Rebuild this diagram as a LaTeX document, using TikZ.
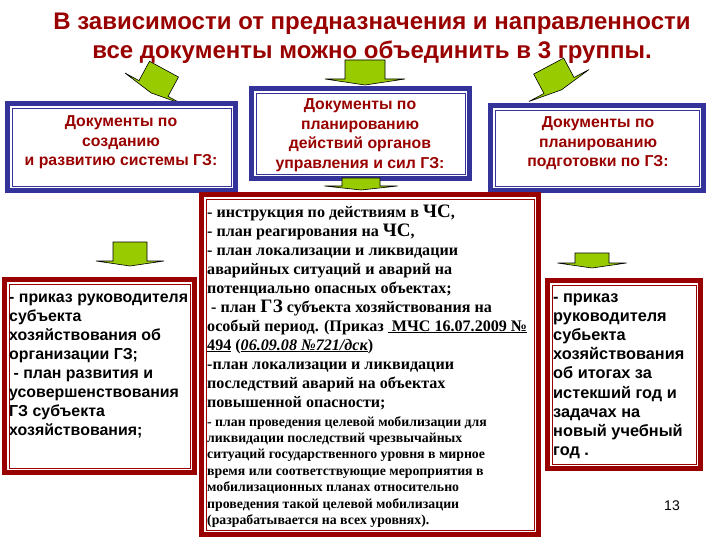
\documentclass[tikz,border=0pt]{standalone}
\usepackage{fontspec}
\setmainfont{Liberation Serif}
\setsansfont{Liberation Sans}
\newfontfamily\arialf{Liberation Sans}
\newfontfamily\timesf{Liberation Serif}
\definecolor{ttlred}{RGB}{153,0,0}
\definecolor{bxblue}{RGB}{51,51,153}
\definecolor{bxred}{RGB}{153,0,0}
\definecolor{argreen}{RGB}{153,204,0}
\tikzset{
  boxbase/.style={rectangle, line width=5pt, fill=white, inner sep=0pt, outer sep=0pt},
  bluebox/.style={boxbase, draw=bxblue},
  redbox/.style={boxbase, draw=bxred},
  arrowst/.style={fill=argreen, draw=black, line width=0.6pt, line join=miter},
  ttl/.style={font=\arialf\bfseries\fontsize{24}{29}\selectfont, text=ttlred, align=center, inner sep=0pt},
  toptxt/.style={font=\arialf\bfseries\fontsize{15.8}{19.5}\selectfont, text=ttlred, align=center, inner sep=0pt},
  sidetxt/.style={font=\arialf\bfseries\fontsize{15.9}{19.1}\selectfont, text=black, align=left, inner sep=0pt, anchor=base west},
  midtxt/.style={font=\timesf\bfseries\fontsize{16.1}{19}\selectfont, text=black, align=left, inner sep=0pt, anchor=base west},
  smalltxt/.style={font=\timesf\bfseries\fontsize{13.8}{16.4}\selectfont, text=black, align=left, inner sep=0pt, anchor=base west},
}
\newcommand\bigabbr[1]{{\fontsize{19}{19}\selectfont #1}}
% name, style, x1, y1, x2, y2  (outer edges in pixels)
\newcommand\docbox[6]{%
  \node[#2, minimum width={#5-#3-5}, minimum height={#6-#4-5}] (#1) at ({(#3+#5)/2},{(#4+#6)/2}) {};
  \draw[#2, fill=none, line width=0.9pt] ([shift={(4.5,4.5)}]#1.north west) rectangle ([shift={(-4.5,-4.5)}]#1.south east);
}
% x, y (head centre), angle, body w, head W, body h, tip d
\newcommand\blockarrow[7]{%
  \begin{scope}[shift={(#1,#2)}, rotate=#3]
    \filldraw[arrowst] ({-#4/2},{-#6}) -- ({#4/2},{-#6}) -- ({#4/2},0) -- ({#5/2},0) -- (0,#7) -- ({-#5/2},0) -- ({-#4/2},0) -- cycle;
  \end{scope}
}
\begin{document}
\begin{tikzpicture}[x=1pt, y=-1pt]
\useasboundingbox[fill=white] (0,0) rectangle (720,540);

% arrows from title
\blockarrow{153.5}{88.5}{-28.5}{33}{65}{22}{5}
\blockarrow{365}{79}{0}{40}{80}{19}{6}
\blockarrow{559}{85.5}{28}{34}{68}{22}{5}

% title (base anchor = baseline of the last line)
\node[ttl, anchor=base] (title) at (372,59) {В зависимости от предназначения и направленности\\все документы можно объединить в 3 группы.};

% top boxes
\docbox{lt}{bluebox}{5}{101}{238}{193}
\docbox{mt}{bluebox}{249}{86}{472}{181}
\docbox{rt}{bluebox}{488}{103}{706}{193}

\node[toptxt, anchor=base] (ltt) at (121,166) {Документы по\\созданию\\ и развитию системы ГЗ:};
\node[toptxt, anchor=base] (mtt) at (360,168.5) {Документы по\\планированию\\действий органов\\управления и сил ГЗ:};
\node[toptxt, anchor=base] (rtt) at (598,167) {Документы по\\планированию\\подготовки по ГЗ:};

% big middle box
\docbox{mb}{redbox}{199}{192}{541}{537}
\blockarrow{361}{186}{0}{38}{73}{8}{4}

% side boxes
\blockarrow{130}{261}{0}{34}{68}{19}{5}
\blockarrow{592}{263}{0}{34}{69}{10}{5}
\docbox{lb}{redbox}{2}{277}{197}{475}
\docbox{rb}{redbox}{545}{278}{703}{471}

\node[sidetxt] (lbt) at (9,435.7) {- приказ руководителя\\субъекта\\хозяйствования об\\организации ГЗ;\\ \ - план развития и\\усовершенствования\\ГЗ субъекта\\хозяйствования;};
\node[sidetxt, font=\arialf\bfseries\fontsize{16.3}{19.2}\selectfont] (rbt) at (553,455.6) {- приказ\\руководителя\\субьекта\\хозяйствования\\об итогах за\\истекший год и\\задачах на\\новый учебный\\год .};

\node[midtxt] (mbt) at (207,407) {- инструкция по действиям в \bigabbr{ЧС},\\- план реагирования на \bigabbr{ЧС},\\- план локализации и ликвидации\\аварийных ситуаций и аварий на\\потенциально опасных объектах;\\ \ - план \bigabbr{ГЗ} субъекта хозяйствования на\\особый период. (Приказ \underline{ МЧС 16.07.2009 №}\\\underline{494} (\underline{\itshape 06.09.08 №721/дск})\\-план локализации и ликвидации\\последствий аварий на объектах\\повышенной опасности;};
\node[smalltxt] (mbs) at (207,524.4) {- план проведения целевой мобилизации для\\ликвидации последствий чрезвычайных\\ситуаций государственного уровня в мирное\\время или соответствующие мероприятия в\\мобилизационных планах относительно\\проведения такой целевой мобилизации\\(разрабатывается на всех уровнях).};

\node[font=\arialf\fontsize{14}{16}\selectfont, anchor=base, inner sep=0pt] (pg) at (672,510) {13};
\end{tikzpicture}
\end{document}
